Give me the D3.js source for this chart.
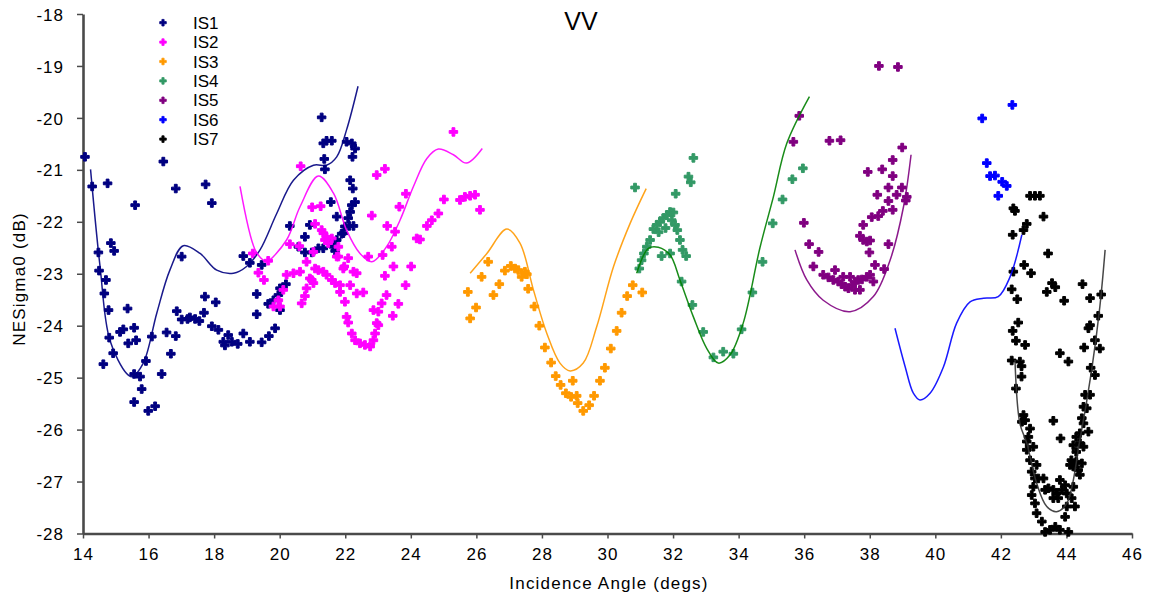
<!DOCTYPE html>
<html>
<head>
<meta charset="utf-8">
<script src="https://cdn.jsdelivr.net/npm/d3@7"></script>
<style>
  html, body { margin: 0; padding: 0; background: #fff; }
  svg text { font-family: "Liberation Sans", Arial, sans-serif; fill: #000; }
</style>
</head>
<body>
<svg id="chart" width="1153" height="597"></svg>
<script>
// ---------------- data ----------------
const seriesNames = ["IS1", "IS2", "IS3", "IS4", "IS5", "IS6", "IS7"];
const xTicks = [14, 16, 18, 20, 22, 24, 26, 28, 30, 32, 34, 36, 38, 40, 42, 44, 46];
const yTicks = [-28, -27, -26, -25, -24, -23, -22, -21, -20, -19, -18];

const is1Points = [
  [14.06,-20.75],[14.28,-21.32],[14.75,-21.26],[14.47,-22.59],[14.49,-22.94],[14.85,-22.41],[14.95,-22.56],
  [14.70,-23.12],[14.65,-23.38],[14.78,-23.70],[14.80,-24.23],[14.92,-24.53],[14.62,-24.74],[15.59,-21.68],
  [15.36,-23.67],[15.13,-24.12],[15.23,-24.07],[15.38,-24.34],[15.56,-24.04],[15.62,-24.28],[15.56,-24.93],
  [15.74,-24.98],[15.79,-25.22],[15.92,-24.68],[15.56,-25.47],[15.99,-25.64],[16.20,-25.55],[16.10,-24.21],
  [16.40,-24.93],[16.55,-24.13],[16.68,-24.54],[16.83,-24.20],[16.45,-20.84],[16.83,-21.36],[17.01,-22.67],
  [16.86,-23.72],[17.01,-23.88],[17.19,-23.87],[17.26,-23.84],[17.42,-23.87],[17.55,-23.91],[17.69,-23.75],
  [17.72,-23.44],[18.05,-23.55],[17.74,-21.28],[17.93,-21.64],[17.93,-24.01],[18.13,-24.08],[18.28,-24.31],
  [18.33,-24.38],[18.43,-24.18],[18.54,-24.31],[18.72,-24.35],[18.89,-24.15],[19.09,-24.31],[19.45,-24.32],
  [19.67,-24.20],[19.86,-24.05],[19.30,-23.78],[19.30,-23.39],[19.65,-23.58],[19.81,-23.51],[20.01,-23.70],
  [20.01,-23.28],[20.19,-23.20],[18.89,-22.66],[19.09,-22.79],[19.45,-22.83],[20.31,-22.08],[20.57,-22.48],
  [20.77,-22.29],[20.77,-22.59],[20.92,-22.06],[20.98,-22.59],[21.28,-19.99],[21.33,-20.49],[21.43,-20.44],
  [21.59,-20.44],[21.36,-20.79],[21.38,-20.99],[21.56,-21.62],[21.33,-22.51],[21.54,-22.41],[21.69,-22.56],
  [21.74,-21.90],[21.89,-22.23],[21.99,-22.09],[22.09,-21.93],[22.15,-21.81],[22.20,-21.68],[22.15,-21.20],
  [22.23,-21.36],[22.04,-20.46],[22.20,-20.49],[22.30,-20.59],[22.22,-20.75],[22.30,-21.62],[22.25,-22.08],
  [22.12,-22.08],[21.18,-22.51],[21.74,-22.35],[21.64,-22.48],[21.94,-22.22],[19.96,-23.41]
];
const is2Points = [
  [20.64,-20.93],[22.96,-21.10],[23.21,-20.98],[20.99,-21.72],[21.25,-21.70],[21.08,-22.04],[22.81,-21.88],
  [21.33,-22.22],[21.43,-22.29],[21.59,-22.32],[21.48,-22.41],[21.38,-22.35],[21.28,-22.16],[20.31,-22.43],
  [20.60,-22.47],[20.82,-22.77],[21.03,-22.58],[19.18,-22.61],[19.65,-22.75],[19.35,-22.98],[19.52,-23.12],
  [20.21,-23.02],[20.42,-22.99],[20.62,-22.96],[21.18,-22.93],[21.33,-22.96],[21.43,-23.02],[21.59,-23.12],
  [21.69,-23.18],[20.98,-23.12],[21.03,-23.18],[20.82,-23.28],[20.77,-23.43],[20.67,-23.57],[20.11,-23.31],
  [19.96,-23.51],[19.81,-23.63],[21.79,-22.67],[22.09,-22.70],[21.94,-22.90],[22.25,-22.96],[21.84,-23.35],
  [21.99,-23.54],[22.15,-23.22],[22.35,-23.38],[22.55,-23.36],[22.04,-23.83],[22.09,-23.94],[22.20,-24.15],
  [22.30,-24.28],[22.45,-24.34],[22.60,-24.37],[22.76,-24.40],[22.86,-24.28],[22.91,-24.15],[22.86,-23.70],
  [22.96,-23.95],[23.01,-23.99],[25.30,-20.27],[23.85,-21.46],[23.65,-21.71],[23.28,-22.08],[23.52,-22.19],
  [23.42,-22.48],[23.14,-22.64],[22.70,-22.67],[23.47,-22.86],[23.21,-23.04],[24.01,-22.86],[23.84,-23.22],
  [23.26,-23.41],[23.11,-23.57],[23.62,-23.58],[23.45,-23.81],[23.01,-23.73],[25.01,-21.57],[25.50,-21.58],
  [25.65,-21.52],[25.81,-21.50],[25.96,-21.48],[26.11,-21.77],[24.84,-21.84],[24.64,-21.97],[24.49,-22.08],
  [24.18,-22.32],[24.28,-22.34],[22.35,-22.99],[21.97,-22.86],[21.74,-22.67],[21.79,-22.48],[20.92,-23.09],
  [21.08,-22.90],[21.84,-23.22],[20.01,-23.63]
];
const is3Points = [
  [25.74,-23.35],[25.99,-23.65],[25.81,-23.86],[26.16,-23.06],[26.36,-22.77],[26.52,-23.41],[26.70,-23.20],
  [26.87,-22.94],[27.05,-22.85],[27.18,-22.90],[27.28,-22.93],[27.38,-23.06],[27.54,-23.01],[27.48,-22.96],
  [27.58,-23.29],[27.77,-23.63],[27.92,-24.00],[28.09,-24.42],[28.28,-24.71],[28.42,-24.97],[28.57,-25.14],
  [28.94,-25.06],[28.73,-25.30],[28.89,-25.37],[29.06,-25.35],[29.09,-25.49],[29.26,-25.64],[29.44,-25.53],
  [29.59,-25.35],[29.77,-25.06],[29.92,-24.81],[30.10,-24.44],[30.28,-24.10],[30.43,-23.75],[30.60,-23.43],
  [30.77,-23.22],[31.06,-23.36]
];
const is4Points = [
  [30.84,-21.34],[32.62,-20.77],[32.47,-21.13],[32.54,-21.24],[32.08,-21.46],[30.97,-22.90],[31.04,-22.74],
  [31.11,-22.61],[31.20,-22.48],[31.30,-22.35],[31.40,-22.14],[31.50,-22.06],[31.60,-22.00],[31.70,-21.93],
  [31.81,-21.87],[31.91,-21.81],[32.01,-21.82],[31.96,-21.97],[32.06,-22.06],[32.13,-22.16],[32.21,-22.35],
  [32.29,-22.54],[32.40,-22.66],[31.65,-22.66],[31.91,-22.61],[31.56,-22.20],[31.77,-22.12],[32.26,-23.15],
  [32.59,-23.60],[32.92,-24.12],[33.23,-24.61],[33.53,-24.50],[33.84,-24.54],[34.09,-24.07],[34.42,-23.36],
  [34.73,-22.77],[35.04,-22.03],[35.34,-21.57],[35.64,-21.18],[35.96,-20.97]
];
const is5Points = [
  [35.85,-19.96],[35.67,-20.46],[36.77,-20.44],[37.11,-20.43],[35.99,-22.02],[36.15,-22.43],[36.44,-22.58],
  [36.28,-22.86],[36.94,-22.93],[36.58,-23.02],[36.74,-23.07],[36.89,-23.12],[37.04,-23.15],[37.14,-23.20],
  [37.25,-23.25],[37.35,-23.28],[37.45,-23.22],[37.55,-23.15],[37.65,-23.12],[37.76,-23.11],[37.91,-23.06],
  [38.01,-23.02],[37.19,-23.06],[37.40,-23.06],[37.55,-23.31],[37.70,-23.31],[38.11,-23.15],[38.16,-22.83],
  [38.44,-22.91],[37.99,-22.59],[38.57,-22.43],[37.70,-22.27],[37.80,-22.35],[37.91,-22.38],[38.01,-22.36],
  [37.80,-22.06],[38.06,-21.91],[38.26,-21.89],[38.40,-21.79],[38.70,-21.77],[38.57,-21.60],[38.23,-21.48],
  [38.82,-21.48],[39.13,-21.52],[39.10,-21.59],[38.98,-21.34],[38.57,-21.34],[37.94,-21.04],[38.38,-20.99],
  [38.70,-21.12],[38.70,-20.81],[38.99,-20.57],[38.28,-19.00],[38.86,-19.02]
];
const is6Points = [
  [42.35,-19.75],[41.43,-20.01],[41.57,-20.87],[41.67,-21.12],[41.82,-21.11],[42.04,-21.23],[42.18,-21.31],
  [41.92,-21.50]
];
const is7Points = [
  [42.89,-21.50],[43.04,-21.50],[43.19,-21.50],[42.38,-21.74],[42.43,-21.79],[43.30,-21.90],[42.79,-22.04],
  [42.69,-22.16],[42.36,-22.25],[43.44,-22.61],[42.71,-22.83],[42.92,-22.99],[42.38,-22.96],[42.33,-23.30],
  [42.50,-23.49],[43.56,-23.18],[43.66,-23.26],[43.40,-23.35],[43.93,-23.52],[44.49,-23.20],[44.72,-23.47],
  [45.06,-23.40],[42.53,-23.94],[42.36,-24.10],[42.46,-24.29],[42.74,-24.37],[44.97,-23.81],[44.72,-23.99],
  [44.67,-24.05],[44.87,-24.28],[45.02,-24.44],[44.54,-24.42],[43.80,-24.53],[44.06,-24.69],[42.33,-24.67],
  [42.58,-24.69],[42.63,-24.78],[44.74,-24.81],[44.87,-24.95],[42.63,-24.98],[42.46,-25.21],[44.57,-25.33],
  [44.72,-25.33],[44.52,-25.56],[44.62,-25.59],[44.47,-25.78],[44.52,-25.88],[44.67,-26.04],[44.41,-26.07],
  [43.60,-25.83],[42.69,-25.72],[42.64,-25.85],[42.74,-25.82],[42.89,-25.98],[42.84,-26.14],[42.79,-26.23],
  [42.99,-26.33],[42.79,-26.39],[42.89,-26.59],[43.09,-26.68],[42.94,-26.81],[43.04,-26.94],[43.14,-26.94],
  [43.30,-26.94],[42.99,-27.10],[42.94,-27.26],[43.04,-27.42],[43.09,-27.61],[43.25,-27.77],[43.35,-27.97],
  [43.50,-27.93],[43.66,-27.87],[43.80,-27.93],[44.06,-27.97],[43.82,-26.17],[44.30,-26.14],[44.41,-26.26],
  [44.21,-26.30],[44.52,-26.33],[44.30,-26.43],[44.15,-26.59],[44.30,-26.62],[44.47,-26.65],[44.21,-26.71],
  [44.36,-26.78],[44.41,-26.87],[44.11,-26.68],[43.80,-26.97],[43.96,-27.07],[43.86,-27.16],[43.70,-27.23],
  [43.60,-27.16],[43.45,-27.13],[43.35,-27.16],[44.01,-27.23],[43.75,-27.32],[43.60,-27.32],[44.21,-27.10],
  [44.16,-27.32],[44.26,-27.48],[44.01,-27.48],[43.96,-27.68]
];

// fitted curves
const is1Line = [
  [14.23,-20.99],[14.52,-22.86],[14.82,-24.28],[15.33,-24.92],[15.49,-24.98],[15.84,-24.72],[16.25,-23.76],
  [16.65,-22.93],[17.06,-22.46],[17.57,-22.61],[18.08,-22.93],[18.59,-22.99],[18.99,-22.86],[19.40,-22.54],
  [19.91,-21.84],[20.42,-21.20],[21.03,-20.91],[21.43,-20.91],[21.74,-20.75],[22.04,-20.23],[22.39,-19.39]
];
const is2Line = [
  [18.79,-21.32],[19.25,-22.54],[19.50,-22.74],[19.60,-22.77],[20.21,-22.35],[20.62,-21.71],[21.18,-21.12],
  [21.64,-21.45],[22.04,-22.16],[22.45,-22.61],[22.81,-22.77],[23.26,-22.48],[23.67,-21.97],[24.08,-21.32],
  [24.49,-20.78],[24.84,-20.60],[25.30,-20.71],[25.70,-20.87],[26.18,-20.59]
];
const is3Line = [
  [25.81,-22.99],[26.32,-22.61],[26.93,-22.14],[27.33,-22.41],[27.74,-23.31],[28.15,-24.15],[28.55,-24.72],
  [28.86,-24.87],[29.26,-24.72],[29.67,-24.02],[30.18,-22.87],[30.69,-22.03],[31.18,-21.36]
];
const is4Line = [
  [30.89,-22.99],[31.25,-22.51],[31.55,-22.49],[31.91,-22.64],[32.21,-23.12],[32.62,-23.83],[33.03,-24.44],
  [33.38,-24.72],[33.74,-24.56],[34.14,-23.95],[34.65,-22.50],[35.06,-21.52],[35.47,-20.49],[36.16,-19.59]
];
const is5Line = [
  [35.72,-22.54],[36.08,-23.12],[36.58,-23.51],[37.40,-23.73],[38.11,-23.44],[38.62,-22.74],[39.03,-21.71],
  [39.26,-20.71]
];
const is6Line = [
  [38.77,-24.05],[39.08,-24.79],[39.33,-25.30],[39.53,-25.43],[39.84,-25.30],[40.25,-24.79],[40.65,-23.95],
  [41.06,-23.54],[41.47,-23.47],[41.92,-23.44],[42.28,-23.06],[42.64,-22.25]
];
const is7Line = [
  [42.43,-24.66],[42.58,-25.88],[42.79,-26.26],[43.09,-27.03],[43.40,-27.48],[43.70,-27.58],[44.01,-27.42],
  [44.41,-26.20],[44.77,-24.85],[45.02,-23.63],[45.18,-22.54]
];

const pointColors = ["#000080", "#FF00FF", "#FF9900", "#339966", "#800080", "#0000FF", "#000000"];
const lineColors  = ["#000080", "#FF00FF", "#FF9900", "#008000", "#800080", "#0000FF", "#333333"];

// ---------------- chart ----------------
const svg = d3.select("#chart");
const x = d3.scaleLinear().domain([14, 46]).range([83, 1132]);
const y = d3.scaleLinear().domain([-28, -18]).range([533.5, 14]);

const allPoints = [is1Points, is2Points, is3Points, is4Points, is5Points, is6Points, is7Points];
const allLines = [is1Line, is2Line, is3Line, is4Line, is5Line, is6Line, is7Line];

// axes
const axisColor = "#4a4a4a";
const gx = svg.append("g").attr("transform", `translate(0,${y(-28)})`)
  .call(d3.axisBottom(x).tickValues(xTicks).tickFormat(d => String(d)).tickSize(5).tickSizeOuter(0).tickPadding(9));
const gy = svg.append("g").attr("transform", `translate(${x(14)},0)`)
  .call(d3.axisLeft(y).tickValues(yTicks).tickFormat(d => String(d)).tickSize(6).tickSizeOuter(0).tickPadding(13));
[gx, gy].forEach(g => {
  g.select(".domain").attr("stroke", axisColor).attr("stroke-width", 2.6);
  g.selectAll(".tick line").attr("stroke", axisColor).attr("stroke-width", 1.5);
  g.selectAll(".tick text").attr("font-size", 17).attr("letter-spacing", "1px")
    .attr("font-family", "'Liberation Sans', Arial, sans-serif").attr("fill", "#000");
});
gy.selectAll(".tick text").attr("dy", "0.36em");

// scatter points
const cross = d3.symbol().type(d3.symbolCross).size(40);
allPoints.forEach((pts, i) => {
  svg.append("g").selectAll("path").data(pts).join("path")
    .attr("d", cross)
    .attr("transform", d => `translate(${x(d[0])},${y(d[1])})`)
    .attr("fill", pointColors[i])
    .attr("stroke", pointColors[i]).attr("stroke-width", 1).attr("stroke-linejoin", "round");
});

// fitted curves
const line = d3.line().x(d => x(d[0])).y(d => y(d[1])).curve(d3.curveCatmullRom.alpha(0.5));
allLines.forEach((ln, i) => {
  svg.append("path").datum(ln).attr("d", line)
    .attr("fill", "none").attr("stroke", lineColors[i]).attr("stroke-width", 1.5)
    .attr("stroke-opacity", 0.9);
});

// title
svg.append("text").attr("x", 581).attr("y", 30).attr("text-anchor", "middle")
  .attr("font-size", 25).text("VV");

// axis titles
svg.append("text").attr("x", 609).attr("y", 589).attr("text-anchor", "middle")
  .attr("font-size", 17).attr("letter-spacing", "1.2px").text("Incidence Angle (degs)");
svg.append("text").attr("transform", "translate(25,279) rotate(-90)").attr("text-anchor", "middle")
  .attr("font-size", 17).attr("letter-spacing", "1.2px").text("NESigma0 (dB)");

// legend
const legendSym = d3.symbol().type(d3.symbolCross).size(24);
const lg = svg.append("g");
seriesNames.forEach((name, i) => {
  const ly = 22.7 + i * 19.4;
  lg.append("path").attr("d", legendSym).attr("transform", `translate(163,${ly})`)
    .attr("fill", pointColors[i]).attr("stroke", pointColors[i]).attr("stroke-width", 0.8);
  lg.append("text").attr("x", 193).attr("y", ly + 6).attr("font-size", 17).text(name);
});
</script>
</body>
</html>
